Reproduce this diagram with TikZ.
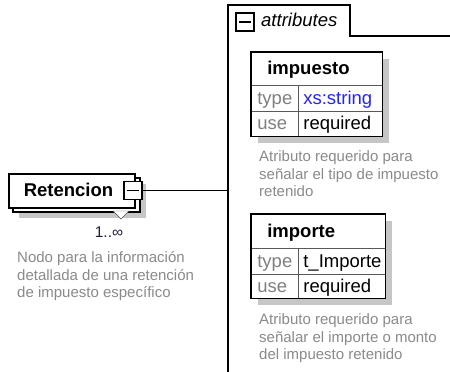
\documentclass[tikz,border=0pt]{standalone}
\usepackage{fontspec}
\setmainfont{Liberation Sans}
\usepackage{xcolor}
\usepackage{tikz}
\usetikzlibrary{calc}
\definecolor{descgray}{HTML}{8A8A8A}
\definecolor{labgray}{HTML}{808080}
\definecolor{shadegray}{HTML}{C6C6C6}
\definecolor{typeblue}{HTML}{2323FF}
\definecolor{cardnavy}{HTML}{202040}
\tikzset{
  cell/.style={draw=black!65, line width=0.7pt, fill=white, anchor=north west, inner ysep=0pt, text height=16pt, text depth=4pt, align=left, font=\fontsize{18.5}{20}\selectfont},
  hdr/.style={cell, inner xsep=16pt, font=\bfseries\fontsize{18.5}{20}\selectfont},
  lab/.style={cell, inner xsep=6pt, text width=35pt, text=labgray},
  val/.style={cell, inner xsep=5pt},
  tblframe/.style={draw, line width=1.5pt},
  desc/.style={anchor=north west, inner sep=0pt, align=left, text=descgray, font=\fontsize{15}{17.5}\selectfont},
  collapse/.style={draw, line width=1.5pt, fill=white, minimum size=18pt, inner sep=0pt, path picture={\draw [line width=1.2pt] ([xshift=3pt]path picture bounding box.west) -- ([xshift=-3pt]path picture bounding box.east);}}
}
\begin{document}
\begin{tikzpicture}[x=1pt, y=-1pt]
\useasboundingbox (0,0) rectangle (450,372);
\draw [line width=1.5pt] (228,372) -- (228,5) -- (350,5) -- (350,36) -- (450,36);
\node [collapse] (attrsign) at (245,22) {};
\node [anchor=base west, inner sep=0pt, font=\itshape\fontsize{18.5}{20}\selectfont] (attrlabel) at (261,27) {attributes};

\fill [shadegray] (19,184) rectangle (146,218);
\draw [line width=1.2pt, fill=white] (13,178) rectangle (140,212);
\draw [black!70, fill=white] (113,211) -- (129,211) -- (121,219) -- cycle;
\node [hdr, draw=black, line width=1.5pt, inner xsep=15pt, text width=96pt, minimum height=34pt] (retencion) at (8,173) {Retencion};
\node [collapse] (retsign) at (133,190.5) {};
\node [anchor=base, inner sep=0pt, text=cardnavy, font=\fontsize{15.5}{17}\selectfont] (retcard) at (109,237) {1..∞};
\node [desc] (retdesc) at (17,251.5) {Nodo para la información\\detallada de una retención\\de impuesto específico};
\coordinate (attrline) at (228,190.5);
\draw [line width=1.5pt] (retsign.east) -- (attrline);

\fill [shadegray] (258,59) rectangle (389,143);
\node [hdr, minimum height=33pt, text width=99pt] (impname) at (251,52) {impuesto};
\node [lab, minimum height=26pt] (imptypel) at (251,85) {type};
\node [val, minimum height=26pt, text width=74pt, text=typeblue] (imptype) at (298,85) {xs:string};
\node [lab, minimum height=25pt] (impusel) at (251,111) {use};
\node [val, minimum height=25pt, text width=74pt] (impuse) at (298,111) {required};
\draw [tblframe] (impname.north west) rectangle (impuse.south east);
\node [desc] (impdesc) at (259,150.5) {Atributo requerido para\\señalar el tipo de impuesto\\retenido};

\fill [shadegray] (258,221) rectangle (392,305);
\node [hdr, minimum height=34pt, text width=102pt] (imponame) at (251,214) {importe};
\node [lab, minimum height=26pt] (impotypel) at (251,248) {type};
\node [val, minimum height=26pt, text width=77pt] (impotype) at (298,248) {t\_Importe};
\node [lab, minimum height=24pt] (impousel) at (251,274) {use};
\node [val, minimum height=24pt, text width=77pt] (impouse) at (298,274) {required};
\draw [tblframe] (imponame.north west) rectangle (impouse.south east);
\node [desc] (impodesc) at (259,313.5) {Atributo requerido para\\señalar el importe o monto\\del impuesto retenido};
\end{tikzpicture}
\end{document}
